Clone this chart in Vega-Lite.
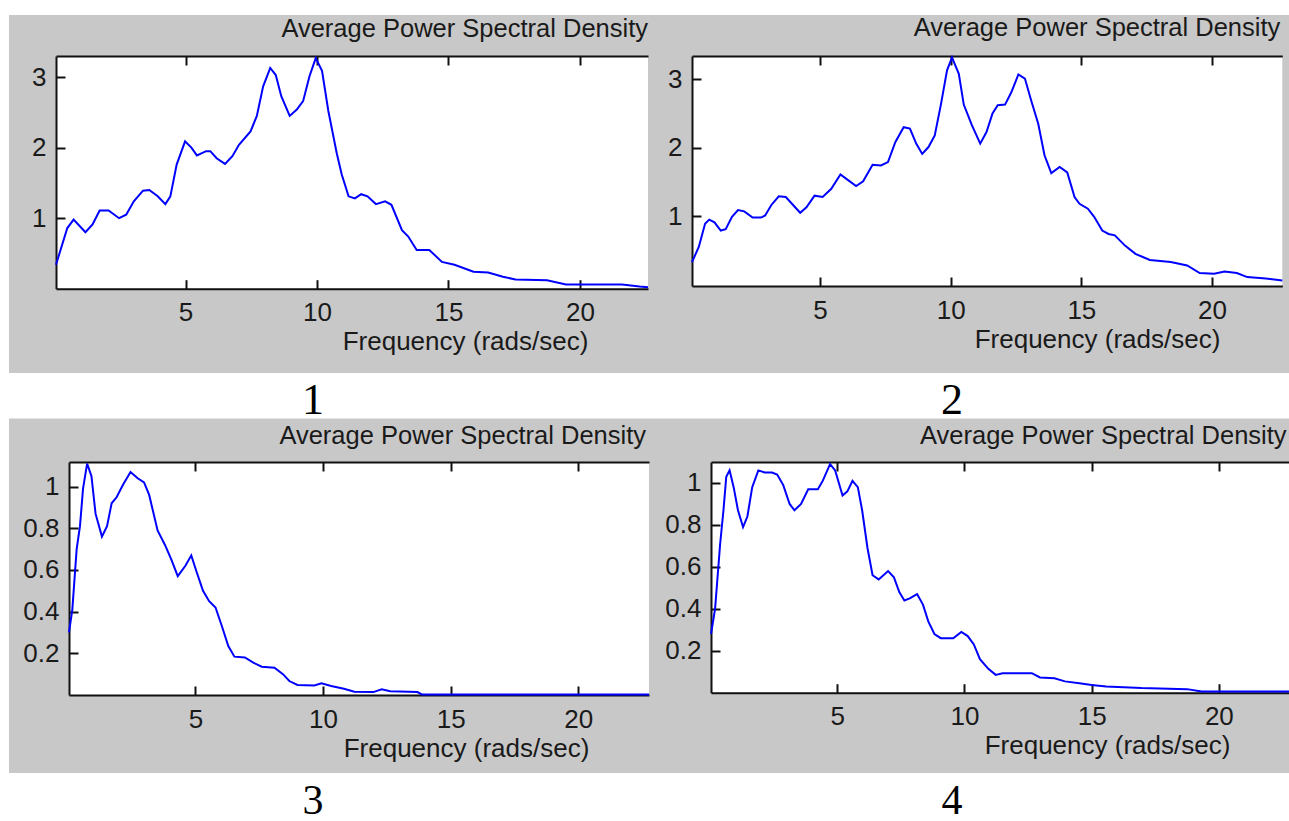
{
  "$schema": "https://vega.github.io/schema/vega-lite/v6.json",
  "background": "#c8c8c8",
  "padding": 0,
  "spacing": 0,
  "config": {
    "view": {"stroke": null},
    "title": {"font": "Liberation Sans", "fontSize": 25.5, "fontWeight": "normal", "color": "#1a1a1a"},
    "axis": {
      "grid": false,
      "domainColor": "#111111", "domainWidth": 2,
      "tickColor": "#111111", "tickWidth": 2, "tickSize": -9,
      "labelFont": "Liberation Sans", "labelFontSize": 26, "labelColor": "#1a1a1a",
      "labelOverlap": false, "labelFlush": false,
      "titleFont": "Liberation Sans", "titleFontSize": 26, "titleFontWeight": "normal", "titleColor": "#1a1a1a"
    },
    "axisBottom": {"labelPadding": 20, "titleBaseline": "alphabetic", "titleAlign": "center", "titleY": 61},
    "axisTop": {"labels": false, "labelPadding": 0, "labelFontSize": 1, "title": null},
    "axisY": {"labelPadding": 19, "format": "~g"}
  },
  "datasets": {
    "p1": [
      {"f":0.07,"v":0.34},{"f":0.5,"v":0.86},{"f":0.74,"v":0.98},{"f":1.19,"v":0.8},{"f":1.46,"v":0.91},{"f":1.73,"v":1.11},{"f":2.07,"v":1.11},{"f":2.47,"v":1.0},{"f":2.74,"v":1.05},{"f":3.03,"v":1.24},{"f":3.38,"v":1.39},{"f":3.62,"v":1.4},{"f":3.94,"v":1.31},{"f":4.23,"v":1.2},{"f":4.42,"v":1.31},{"f":4.66,"v":1.76},{"f":4.98,"v":2.09},{"f":5.22,"v":2.0},{"f":5.43,"v":1.89},{"f":5.78,"v":1.95},{"f":5.94,"v":1.95},{"f":6.18,"v":1.85},{"f":6.5,"v":1.77},{"f":6.78,"v":1.88},{"f":7.03,"v":2.04},{"f":7.47,"v":2.23},{"f":7.71,"v":2.45},{"f":7.95,"v":2.87},{"f":8.22,"v":3.13},{"f":8.43,"v":3.03},{"f":8.64,"v":2.73},{"f":8.96,"v":2.45},{"f":9.23,"v":2.54},{"f":9.47,"v":2.66},{"f":9.71,"v":3.01},{"f":9.95,"v":3.27},{"f":10.19,"v":3.09},{"f":10.43,"v":2.52},{"f":10.75,"v":1.92},{"f":10.94,"v":1.62},{"f":11.2,"v":1.31},{"f":11.44,"v":1.28},{"f":11.68,"v":1.34},{"f":11.92,"v":1.31},{"f":12.24,"v":1.2},{"f":12.59,"v":1.24},{"f":12.83,"v":1.19},{"f":13.23,"v":0.83},{"f":13.47,"v":0.74},{"f":13.79,"v":0.55},{"f":14.27,"v":0.55},{"f":14.75,"v":0.38},{"f":15.23,"v":0.34},{"f":15.95,"v":0.24},{"f":16.51,"v":0.23},{"f":17.07,"v":0.17},{"f":17.55,"v":0.13},{"f":18.75,"v":0.12},{"f":19.47,"v":0.06},{"f":21.6,"v":0.06},{"f":22.27,"v":0.03},{"f":22.59,"v":0.02}
    ],
    "p2": [
      {"f":0.1,"v":0.33},{"f":0.36,"v":0.55},{"f":0.6,"v":0.89},{"f":0.76,"v":0.95},{"f":0.96,"v":0.91},{"f":1.2,"v":0.79},{"f":1.39,"v":0.81},{"f":1.63,"v":0.99},{"f":1.86,"v":1.09},{"f":2.1,"v":1.07},{"f":2.42,"v":0.98},{"f":2.74,"v":0.98},{"f":2.9,"v":1.01},{"f":3.13,"v":1.16},{"f":3.42,"v":1.29},{"f":3.69,"v":1.28},{"f":3.95,"v":1.17},{"f":4.24,"v":1.05},{"f":4.48,"v":1.13},{"f":4.79,"v":1.3},{"f":5.1,"v":1.28},{"f":5.43,"v":1.4},{"f":5.78,"v":1.61},{"f":6.06,"v":1.53},{"f":6.38,"v":1.44},{"f":6.65,"v":1.51},{"f":7.01,"v":1.75},{"f":7.33,"v":1.74},{"f":7.6,"v":1.79},{"f":7.88,"v":2.08},{"f":8.2,"v":2.3},{"f":8.44,"v":2.28},{"f":8.68,"v":2.06},{"f":8.91,"v":1.91},{"f":9.15,"v":2.01},{"f":9.39,"v":2.18},{"f":9.63,"v":2.64},{"f":9.86,"v":3.13},{"f":10.05,"v":3.32},{"f":10.31,"v":3.08},{"f":10.5,"v":2.63},{"f":10.81,"v":2.33},{"f":11.13,"v":2.06},{"f":11.37,"v":2.23},{"f":11.6,"v":2.5},{"f":11.8,"v":2.62},{"f":12.08,"v":2.63},{"f":12.32,"v":2.81},{"f":12.59,"v":3.07},{"f":12.84,"v":3.01},{"f":13.08,"v":2.69},{"f":13.35,"v":2.35},{"f":13.59,"v":1.89},{"f":13.85,"v":1.63},{"f":14.17,"v":1.72},{"f":14.46,"v":1.64},{"f":14.74,"v":1.28},{"f":14.93,"v":1.18},{"f":15.25,"v":1.11},{"f":15.49,"v":0.99},{"f":15.8,"v":0.79},{"f":16.04,"v":0.74},{"f":16.28,"v":0.72},{"f":16.67,"v":0.57},{"f":17.07,"v":0.45},{"f":17.62,"v":0.36},{"f":18.42,"v":0.33},{"f":19.05,"v":0.28},{"f":19.53,"v":0.17},{"f":20.08,"v":0.16},{"f":20.48,"v":0.19},{"f":20.95,"v":0.17},{"f":21.35,"v":0.11},{"f":22.06,"v":0.09},{"f":22.69,"v":0.06}
    ],
    "p3": [
      {"f":0.05,"v":0.3},{"f":0.18,"v":0.41},{"f":0.35,"v":0.7},{"f":0.48,"v":0.81},{"f":0.6,"v":0.99},{"f":0.76,"v":1.11},{"f":0.93,"v":1.05},{"f":1.09,"v":0.87},{"f":1.34,"v":0.76},{"f":1.54,"v":0.81},{"f":1.72,"v":0.92},{"f":1.92,"v":0.95},{"f":2.17,"v":1.01},{"f":2.46,"v":1.07},{"f":2.74,"v":1.04},{"f":2.99,"v":1.02},{"f":3.19,"v":0.96},{"f":3.52,"v":0.79},{"f":3.81,"v":0.72},{"f":4.06,"v":0.65},{"f":4.31,"v":0.57},{"f":4.61,"v":0.62},{"f":4.84,"v":0.67},{"f":5.05,"v":0.59},{"f":5.3,"v":0.5},{"f":5.54,"v":0.45},{"f":5.79,"v":0.42},{"f":6.04,"v":0.33},{"f":6.29,"v":0.235},{"f":6.53,"v":0.184},{"f":6.94,"v":0.18},{"f":7.27,"v":0.155},{"f":7.6,"v":0.136},{"f":8.1,"v":0.131},{"f":8.43,"v":0.1},{"f":8.68,"v":0.067},{"f":9.0,"v":0.048},{"f":9.66,"v":0.046},{"f":9.94,"v":0.056},{"f":10.32,"v":0.043},{"f":10.82,"v":0.03},{"f":11.23,"v":0.016},{"f":11.97,"v":0.014},{"f":12.3,"v":0.027},{"f":12.63,"v":0.018},{"f":13.7,"v":0.014},{"f":13.87,"v":0.003},{"f":22.77,"v":0.003}
    ],
    "p4": [
      {"f":0.04,"v":0.28},{"f":0.2,"v":0.4},{"f":0.4,"v":0.71},{"f":0.53,"v":0.87},{"f":0.64,"v":1.03},{"f":0.77,"v":1.06},{"f":0.93,"v":0.98},{"f":1.1,"v":0.87},{"f":1.3,"v":0.79},{"f":1.47,"v":0.84},{"f":1.66,"v":0.98},{"f":1.9,"v":1.06},{"f":2.15,"v":1.05},{"f":2.44,"v":1.05},{"f":2.64,"v":1.04},{"f":2.88,"v":0.99},{"f":3.13,"v":0.9},{"f":3.32,"v":0.87},{"f":3.58,"v":0.9},{"f":3.86,"v":0.97},{"f":4.24,"v":0.97},{"f":4.43,"v":1.01},{"f":4.72,"v":1.09},{"f":4.92,"v":1.06},{"f":5.21,"v":0.94},{"f":5.4,"v":0.96},{"f":5.6,"v":1.01},{"f":5.81,"v":0.98},{"f":5.98,"v":0.87},{"f":6.19,"v":0.69},{"f":6.39,"v":0.56},{"f":6.63,"v":0.54},{"f":7.0,"v":0.58},{"f":7.23,"v":0.55},{"f":7.44,"v":0.48},{"f":7.64,"v":0.44},{"f":7.85,"v":0.45},{"f":8.14,"v":0.47},{"f":8.37,"v":0.42},{"f":8.58,"v":0.34},{"f":8.82,"v":0.28},{"f":9.07,"v":0.26},{"f":9.56,"v":0.26},{"f":9.88,"v":0.29},{"f":10.13,"v":0.27},{"f":10.37,"v":0.23},{"f":10.61,"v":0.16},{"f":10.94,"v":0.114},{"f":11.23,"v":0.085},{"f":11.5,"v":0.093},{"f":12.65,"v":0.093},{"f":12.97,"v":0.073},{"f":13.54,"v":0.069},{"f":13.95,"v":0.054},{"f":14.52,"v":0.045},{"f":15.0,"v":0.037},{"f":15.57,"v":0.03},{"f":16.96,"v":0.022},{"f":18.75,"v":0.017},{"f":19.32,"v":0.006},{"f":22.78,"v":0.006}
    ]
  },
  "hconcat": [
    {
      "width": 9, "height": 821,
      "view": {"fill": "white", "stroke": null},
      "data": {"values": [{"t": ""}]},
      "mark": "text",
      "encoding": {"text": {"field": "t"}}
    },
    {
      "spacing": 0,
      "vconcat": [
        {
          "width": 1280, "height": 15,
          "view": {"fill": "white", "stroke": null},
          "data": {"values": [{"t": ""}]},
          "mark": "text",
          "encoding": {"text": {"field": "t"}}
        },
        {
          "spacing": 0,
          "hconcat": [
            {
              "width": 1, "height": 1,
              "view": {"fill": null, "stroke": null},
              "data": {"values": [{"t": ""}]},
              "mark": "text",
              "encoding": {"text": {"field": "t"}}
            },
            {
              "width": 592, "height": 232.7,
              "view": {"fill": "white", "stroke": null},
              "title": {"text": "Average Power Spectral Density", "anchor": "end", "frame": "group", "offset": -8, "baseline": "alphabetic"},
              "data": {"name": "p1"},
              "layer": [
                {
                  "mark": {"type": "line", "color": "#0000ff", "strokeWidth": 2},
                  "encoding": {
                    "x": {"field": "f", "type": "quantitative", "scale": {"domain": [0.07, 22.59], "nice": false, "zero": false},
                          "axis": {"orient": "bottom", "values": [5, 10, 15, 20], "title": "Frequency (rads/sec)", "titleX": 409, "minExtent": 84, "maxExtent": 84}},
                    "y": {"field": "v", "type": "quantitative", "scale": {"domain": [0, 3.3], "nice": false, "zero": false},
                          "axis": {"values": [1, 2, 3], "title": null, "minExtent": 45.7, "maxExtent": 45.7}}
                  }
                },
                {
                  "mark": {"type": "rule", "strokeOpacity": 0},
                  "encoding": {
                    "x": {"field": "f", "type": "quantitative", "scale": {"domain": [0.07, 22.59], "nice": false, "zero": false},
                          "axis": {"orient": "top", "values": [5, 10, 15, 20], "labels": false, "title": null, "minExtent": 0, "maxExtent": 0}}
                  }
                }
              ],
              "resolve": {"axis": {"x": "independent"}}
            },
            {
              "width": 590.3, "height": 230,
              "view": {"fill": "white", "stroke": null},
              "title": {"text": "Average Power Spectral Density", "anchor": "end", "frame": "group", "offset": -8, "baseline": "alphabetic", "dx": -2},
              "data": {"name": "p2"},
              "layer": [
                {
                  "mark": {"type": "line", "color": "#0000ff", "strokeWidth": 2},
                  "encoding": {
                    "x": {"field": "f", "type": "quantitative", "scale": {"domain": [0.1, 22.69], "nice": false, "zero": false},
                          "axis": {"orient": "bottom", "values": [5, 10, 15, 20], "title": "Frequency (rads/sec)", "titleX": 405, "minExtent": 84, "maxExtent": 84}},
                    "y": {"field": "v", "type": "quantitative", "scale": {"domain": [-0.02, 3.34], "nice": false, "zero": false},
                          "axis": {"values": [1, 2, 3], "title": null, "minExtent": 40, "maxExtent": 40}}
                  }
                },
                {
                  "mark": {"type": "rule", "strokeOpacity": 0},
                  "encoding": {
                    "x": {"field": "f", "type": "quantitative", "scale": {"domain": [0.1, 22.69], "nice": false, "zero": false},
                          "axis": {"orient": "top", "values": [5, 10, 15, 20], "labels": false, "title": null, "minExtent": 0, "maxExtent": 0}}
                  }
                }
              ],
              "resolve": {"axis": {"x": "independent"}}
            }
          ]
        },
        {
          "width": 1280, "height": 45.5,
          "view": {"fill": "white", "stroke": null},
          "data": {"values": [{"lab": "1"}, {"lab": "2"}]},
          "mark": {"type": "text", "font": "Liberation Serif", "fontSize": 44, "color": "#000000", "baseline": "middle", "dy": 5},
          "encoding": {
            "x": {"field": "lab", "type": "nominal", "scale": {"type": "point", "padding": 0.501565, "align": 0.47426}, "axis": null},
            "text": {"field": "lab"}
          }
        },
        {
          "spacing": 0,
          "hconcat": [
            {
              "width": 1, "height": 1,
              "view": {"fill": null, "stroke": null},
              "data": {"values": [{"t": ""}]},
              "mark": "text",
              "encoding": {"text": {"field": "t"}}
            },
            {
              "width": 580, "height": 233,
              "view": {"fill": "white", "stroke": null},
              "title": {"text": "Average Power Spectral Density", "anchor": "end", "frame": "group", "offset": -9.7, "baseline": "alphabetic", "dx": -3},
              "data": {"name": "p3"},
              "layer": [
                {
                  "mark": {"type": "line", "color": "#0000ff", "strokeWidth": 2},
                  "encoding": {
                    "x": {"field": "f", "type": "quantitative", "scale": {"domain": [0.05, 22.77], "nice": false, "zero": false},
                          "axis": {"orient": "bottom", "values": [5, 10, 15, 20], "title": "Frequency (rads/sec)", "titleX": 397, "minExtent": 78, "maxExtent": 78}},
                    "y": {"field": "v", "type": "quantitative", "scale": {"domain": [0, 1.118], "nice": false, "zero": false},
                          "axis": {"values": [0.2, 0.4, 0.6, 0.8, 1], "title": null, "minExtent": 58.2, "maxExtent": 58.2}}
                  }
                },
                {
                  "mark": {"type": "rule", "strokeOpacity": 0},
                  "encoding": {
                    "x": {"field": "f", "type": "quantitative", "scale": {"domain": [0.05, 22.77], "nice": false, "zero": false},
                          "axis": {"orient": "top", "values": [5, 10, 15, 20], "labels": false, "title": null, "minExtent": 0, "maxExtent": 0}}
                  }
                }
              ],
              "resolve": {"axis": {"x": "independent"}}
            },
            {
              "width": 578.6, "height": 230.7,
              "view": {"fill": "white", "stroke": null},
              "title": {"text": "Average Power Spectral Density", "anchor": "end", "frame": "group", "offset": -9.7, "baseline": "alphabetic", "dx": -3},
              "data": {"name": "p4"},
              "layer": [
                {
                  "mark": {"type": "line", "color": "#0000ff", "strokeWidth": 2},
                  "encoding": {
                    "x": {"field": "f", "type": "quantitative", "scale": {"domain": [0.04, 22.78], "nice": false, "zero": false},
                          "axis": {"orient": "bottom", "values": [5, 10, 15, 20], "title": "Frequency (rads/sec)", "titleX": 396, "minExtent": 80, "maxExtent": 80}},
                    "y": {"field": "v", "type": "quantitative", "scale": {"domain": [0, 1.1], "nice": false, "zero": false},
                          "axis": {"values": [0.2, 0.4, 0.6, 0.8, 1], "title": null, "minExtent": 58, "maxExtent": 58}}
                  }
                },
                {
                  "mark": {"type": "rule", "strokeOpacity": 0},
                  "encoding": {
                    "x": {"field": "f", "type": "quantitative", "scale": {"domain": [0.04, 22.78], "nice": false, "zero": false},
                          "axis": {"orient": "top", "values": [5, 10, 15, 20], "labels": false, "title": null, "minExtent": 0, "maxExtent": 0}}
                  }
                }
              ],
              "resolve": {"axis": {"x": "independent"}}
            }
          ]
        },
        {
          "width": 1280, "height": 49.5,
          "view": {"fill": "white", "stroke": null},
          "data": {"values": [{"lab": "3"}, {"lab": "4"}]},
          "mark": {"type": "text", "font": "Liberation Serif", "fontSize": 42, "color": "#000000", "baseline": "middle", "dy": 3},
          "encoding": {
            "x": {"field": "lab", "type": "nominal", "scale": {"type": "point", "padding": 0.501565, "align": 0.47426}, "axis": null},
            "text": {"field": "lab"}
          }
        }
      ]
    }
  ]
}
